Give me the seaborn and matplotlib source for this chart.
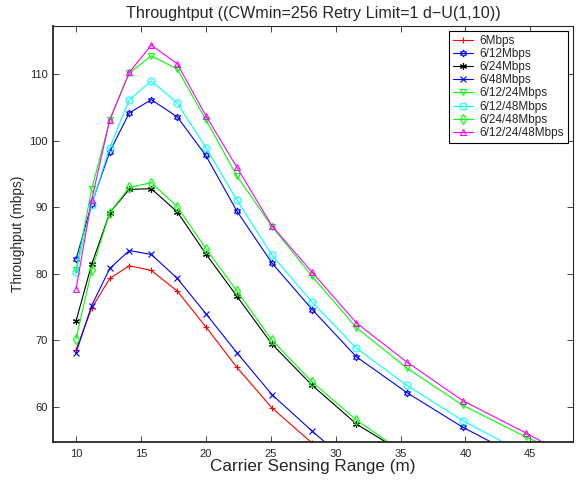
import pandas as pd
import seaborn as sns
import matplotlib.pyplot as plt

RANGE = [10.0, 11.2, 12.6, 14.1, 15.8, 17.8, 20.0, 22.4, 25.1, 28.2, 31.6, 35.5, 39.8, 44.7, 50.1]

SERIES = ["6Mbps", "6/12Mbps", "6/24Mbps", "6/48Mbps",
          "6/12/24Mbps", "6/12/48Mbps", "6/24/48Mbps", "6/12/24/48Mbps"]

r6 = [68.6, 74.8, 79.3, 81.2, 80.5, 77.4, 72.0, 65.9, 59.8, 54.5, 49.3, 44.5, 40.2, 36.3, 32.8]
r6_12 = [82.2, 90.5, 98.4, 104.2, 106.2, 103.6, 97.8, 89.4, 81.6, 74.6, 67.5, 62.1, 56.9, 51.9, 47.3]
r6_24 = [72.9, 81.4, 89.2, 92.7, 92.8, 89.3, 83.0, 76.6, 69.4, 63.2, 57.4, 52.7, 48.0, 43.8, 40.0]
r6_48 = [68.1, 75.2, 80.8, 83.5, 82.9, 79.3, 74.0, 68.1, 61.8, 56.3, 50.6, 45.5, 41.0, 37.0, 33.4]
r6_12_24 = [80.5, 92.7, 103.1, 110.2, 112.8, 110.8, 103.2, 94.7, 87.1, 79.6, 71.9, 65.8, 60.2, 55.4, 51.0]
r6_12_48 = [80.2, 90.4, 99.0, 106.2, 109.0, 105.7, 99.0, 91.1, 82.8, 75.7, 68.8, 63.2, 57.9, 52.8, 48.0]
r6_24_48 = [70.2, 80.5, 89.2, 93.0, 93.7, 90.1, 83.8, 77.4, 70.0, 63.7, 58.0, 52.7, 48.2, 44.0, 40.2]
r6_12_24_48 = [77.7, 91.1, 103.2, 110.3, 114.4, 111.6, 103.8, 96.0, 87.2, 80.2, 72.6, 66.7, 60.9, 56.0, 50.2]

COLORS = ["#ff0000", "#0000ff", "#000000", "#0000ff",
          "#00ff00", "#00ffff", "#00ff00", "#ff00ff"]
MARKERS = ["+", (6, 1, 0), (6, 2, 0), "x", "v", "o", "d", "^"]

values = [r6, r6_12, r6_24, r6_48, r6_12_24, r6_12_48, r6_24_48, r6_12_24_48]

sns.set_style("ticks", {"xtick.direction": "in", "ytick.direction": "in"})
plt.rcParams["font.family"] = ["Liberation Sans", "DejaVu Sans"]

fig = plt.figure(figsize=(5.76, 4.8), dpi=100)
ax = fig.add_axes([0.0915, 0.080, 0.9035, 0.866])

for name, v, c, m in zip(SERIES, values, COLORS, MARKERS):
    df = pd.DataFrame({"range": RANGE, "tput": v})
    sns.lineplot(data=df, x="range", y="tput", color=c, marker=m,
                 markersize=5, linewidth=0.8, mfc="none", mec=c, mew=0.8,
                 label=name, sort=False, ax=ax)

ax.set_xlim(8.2, 48.3)
ax.set_ylim(54.74, 117.3)
ax.set_xticks([10, 15, 20, 25, 30, 35, 40, 45])
ax.set_yticks([60, 70, 80, 90, 100, 110])
ax.tick_params(top=True, right=True, labelsize=8, length=4, width=0.6)
ax.tick_params(axis="x", pad=5)
for s in ["left", "bottom"]:
    ax.spines[s].set_linewidth(1.3)
for s in ["top", "right"]:
    ax.spines[s].set_linewidth(0.8)

ax.set_xlabel("Carrier Sensing Range (m)", fontsize=12.3, labelpad=0)
ax.set_ylabel("Throughput (mbps)", fontsize=9.8, labelpad=3)
ax.set_title("Throughtput ((CWmin=256 Retry Limit=1 d\u2212U(1,10))", fontsize=11.6, pad=6)

leg = ax.legend(loc="upper right", bbox_to_anchor=(1.0, 1.0),
                frameon=True, fancybox=False, edgecolor="black", fontsize=8.5,
                handlelength=1.65, borderpad=0.35, labelspacing=0.1,
                handletextpad=0.6, borderaxespad=0.4)
leg.get_frame().set_linewidth(0.8)
leg.get_frame().set_alpha(1)

fig.savefig("out.png", dpi=100)
